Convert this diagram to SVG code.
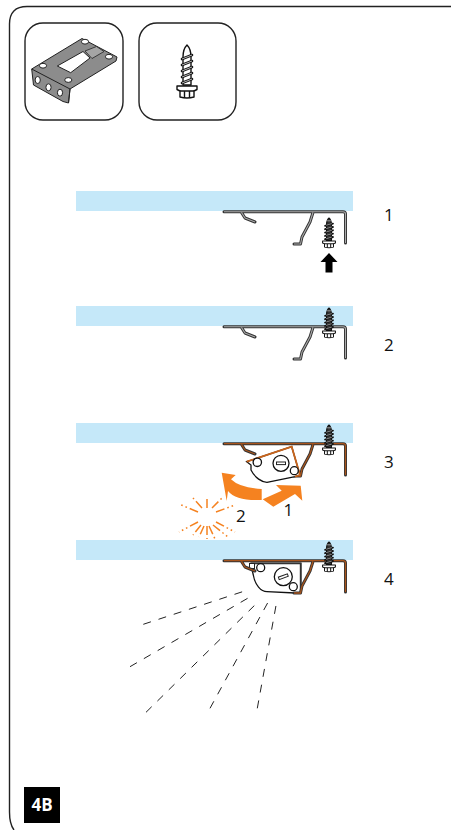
<svg xmlns="http://www.w3.org/2000/svg" xmlns:xlink="http://www.w3.org/1999/xlink" width="451" height="830" viewBox="0 0 451 830">
<style>
text{font-family:"Open Sans","Liberation Sans",sans-serif;fill:#111;font-size:17px}
.bar{fill:#c5e8f9}
.tile{fill:#fff;stroke:#222;stroke-width:1.4}
.ko{fill:none;stroke:#333;stroke-width:3;stroke-linejoin:round;stroke-linecap:round}
.kg{fill:none;stroke:#aaa;stroke-width:1.1;stroke-linejoin:round}
.kb{fill:none;stroke:#a8541c;stroke-width:1.3;stroke-linejoin:round}
.ln{fill:#fff;stroke:#111;stroke-width:1.3}
.arr{fill:#f58220}
.ray{stroke:#f58220;stroke-width:1.5;fill:none;stroke-dasharray:9 3 1.6 3 1.6 3}
.dash{stroke:#222;stroke-width:1;fill:none;stroke-dasharray:8 8}
</style>
<defs>
<path id="br" d="M224 211.7H343Q345.5 211.7 345.5 214V243M241.5 212.5L245 218L255 222M313 212.5L310 222L302 237L300.5 244H294"/>
<g id="screw" fill="#fff" stroke="#111" stroke-width="1.4" stroke-linejoin="round">
<path d="M-4 12Q-4 4 0 0Q4 4 4 12V40H-4Z"/>
<path d="M-5 14L5 10M-5 20L5 16M-5 26L5 22M-5 32L5 28M-5 38L5 34" stroke-width="2.6" stroke-linecap="round"/>
<path d="M-5 14L5 10M-5 20L5 16M-5 26L5 22M-5 32L5 28M-5 38L5 34" stroke="#fff" stroke-width="0.7"/>
<path d="M-10 41H10V44.500L7 46V52Q0 54-7 52V46L-10 44.500Z"/>
<path d="M-7 46H7M-2.500 46V53M2.500 46V53" fill="none"/>
</g>
<g id="screw-s" fill="#fff" stroke="#111" stroke-width="1.8" stroke-linejoin="round">
<path d="M-4.500 12Q-4.500 4 0 0Q4.500 4 4.500 12V40H-4.500Z" fill="#333"/>
<path d="M-7 14L7 10M-7 20L7 16M-7 26L7 22M-7 32L7 28M-7 38L7 34" stroke-width="3.4" stroke-linecap="round"/>
<path d="M-4 5H4M-5 13L5 10M-5 19L5 16M-5 25L5 22M-5 31L5 28M-5 37L5 34" stroke="#fff" stroke-width="0.9"/>
<path d="M-11.500 41H11.500V44.500L8 46V52Q0 54-8 52V46L-11.500 44.500Z"/>
<path d="M-8 46H8M-3 46V53M3 46V53" fill="none"/>
</g>
</defs>

<path id="frame" d="M451 6.500H27Q9.500 6.500 9.500 24V812Q9.500 824 14 830" fill="none" stroke="#222" stroke-width="1.4"/>

<g id="tile-bracket">
<rect class="tile" x="25" y="23" width="98" height="97" rx="18"/>
<path d="M31.700 69L82 38.500L117 57L116 61L70 89L68.500 103L63 101.500L33.500 85Z" fill="#8c8c8c" stroke="#222" stroke-width="1"/>
<path d="M31.700 69L70 89L68.500 103" fill="none" stroke="#222" stroke-width="1"/>
<path d="M57.300 66L83 51.500L90 58L70.700 72.700Z" fill="#fff" stroke="#222" stroke-width="1"/>
<path d="M85 51L96.500 46.500L104 51.500L92 58.500Z" fill="#a5a5a5" stroke="#222" stroke-width="0.8"/>
<g fill="#fff" stroke="#222" stroke-width="1">
<ellipse cx="43" cy="65.700" rx="3.600" ry="2.400"/>
<ellipse cx="85" cy="41.700" rx="3.600" ry="2.400"/>
<ellipse cx="109" cy="56.700" rx="3.600" ry="2.400"/>
<ellipse cx="68.300" cy="80" rx="3.600" ry="2.400"/>
<ellipse cx="37.700" cy="80" rx="2.600" ry="3.500"/>
<ellipse cx="48.500" cy="87.300" rx="2.600" ry="3.500"/>
<ellipse cx="60" cy="92.700" rx="2.600" ry="3.500"/>
</g>
</g>
<g id="tile-screw">
<rect class="tile" x="139" y="23" width="97" height="97" rx="18"/>
<use href="#screw" transform="translate(187 45)"/>
</g>

<g id="step-1">
<rect class="bar" x="76" y="191" width="277" height="20"/>
<use href="#br" class="ko"/><use href="#br" class="kg"/>
<use href="#screw-s" transform="translate(329 218) scale(.56)"/>
<path d="M329 253L337.500 262H332.500V272.500H325.500V262H320.500Z" fill="#000"/>
<text x="384" y="221">1</text>
</g>

<g id="step-2">
<rect class="bar" x="76" y="306" width="277" height="20"/>
<use href="#br" class="ko" transform="translate(0 115)"/><use href="#br" class="kg" transform="translate(0 115)"/>
<use href="#screw-s" transform="translate(329 308) scale(.56)"/>
<text x="384" y="351">2</text>
</g>

<g id="step-3">
<rect class="bar" x="76" y="423" width="277" height="20"/>
<use href="#br" class="ko" transform="translate(0 232)"/><use href="#br" class="kb" transform="translate(0 232)"/>
<use href="#screw-s" transform="translate(329 425) scale(.56)"/>
<path class="ln" d="M246.700 461.700L291.700 446.700L300 475L295 476.700L267 482.300C262 482.300 255 478 251 470L251 465Z"/>
<path d="M246.700 461.700L291.700 446.700L300 475L295 476.700" fill="none" stroke="#c8641c" stroke-width="1.800"/>
<circle class="ln" cx="257.300" cy="462.300" r="4.200"/>
<circle class="ln" cx="294.300" cy="470.700" r="4"/>
<circle class="ln" cx="281" cy="463.300" r="8"/>
<rect x="276.500" y="462" width="9" height="2.600" fill="#fff" stroke="#222" stroke-width="1"/>
<path class="arr" d="M262.700 499.300L281.700 490.700L276 485L300.700 485.700L302.300 500.700L295 494L273.300 506.700Z"/>
<path class="arr" d="M221.700 472.700L235.700 475L231 479.300Q240 488 261.700 489V500Q236 501 228 491L226.700 501Z"/>
<text x="283.500" y="516">1</text>
<text x="236" y="522">2</text>
<text x="384" y="468">3</text>
<g id="burst" transform="translate(207 517)">
<path class="ray" d="M0-9V-21M5-9L15-19M9-5L28-12M9 5L28 15M6 8L21 20M2 9L8 22M0 9V22M-3 9L-8 20M-6 8L-14 18M-9 5L-28 15M-9-5L-28-13M-5-9L-14-19"/>
</g>
</g>

<g id="step-4">
<rect class="bar" x="76" y="540" width="277" height="20"/>
<path class="ln" d="M250.700 563.300H300.700V593H295L267 591.700C261 591.700 255 585 253.300 575Z"/>
<path d="M250.700 563.300H300.700V593" fill="none" stroke="#333" stroke-width="1.800"/>
<circle class="ln" cx="260.700" cy="567.700" r="4"/>
<circle class="ln" cx="293.300" cy="586.700" r="4"/>
<circle class="ln" cx="283.300" cy="576.700" r="9"/>
<rect x="278.500" y="575.400" width="9.600" height="2.600" fill="#fff" stroke="#222" stroke-width="1" transform="rotate(-20 283.300 576.700)"/>
<rect x="249.500" y="563.500" width="5" height="5" fill="#fff" stroke="#222"/>
<use href="#br" class="ko" transform="translate(0 349)"/><use href="#br" class="kb" transform="translate(0 349)"/>
<use href="#screw-s" transform="translate(329 542) scale(.56)"/>
<text x="384" y="585">4</text>
</g>

<g id="connectors">
<path class="dash" d="M143.300 624.300L247.700 590"/>
<path class="dash" d="M130 666.700L253.300 595"/>
<path class="dash" d="M146 712.300L260 600"/>
<path class="dash" d="M210 708.300L268.300 601.700"/>
<path class="dash" d="M257.300 708.300L276.700 601.700"/>
</g>

<g id="badge">
<rect x="24" y="787" width="36" height="36" fill="#000"/>
<text x="42" y="811" text-anchor="middle" style="fill:#fff;font-weight:700;font-size:17px">4B</text>
</g>
</svg>
